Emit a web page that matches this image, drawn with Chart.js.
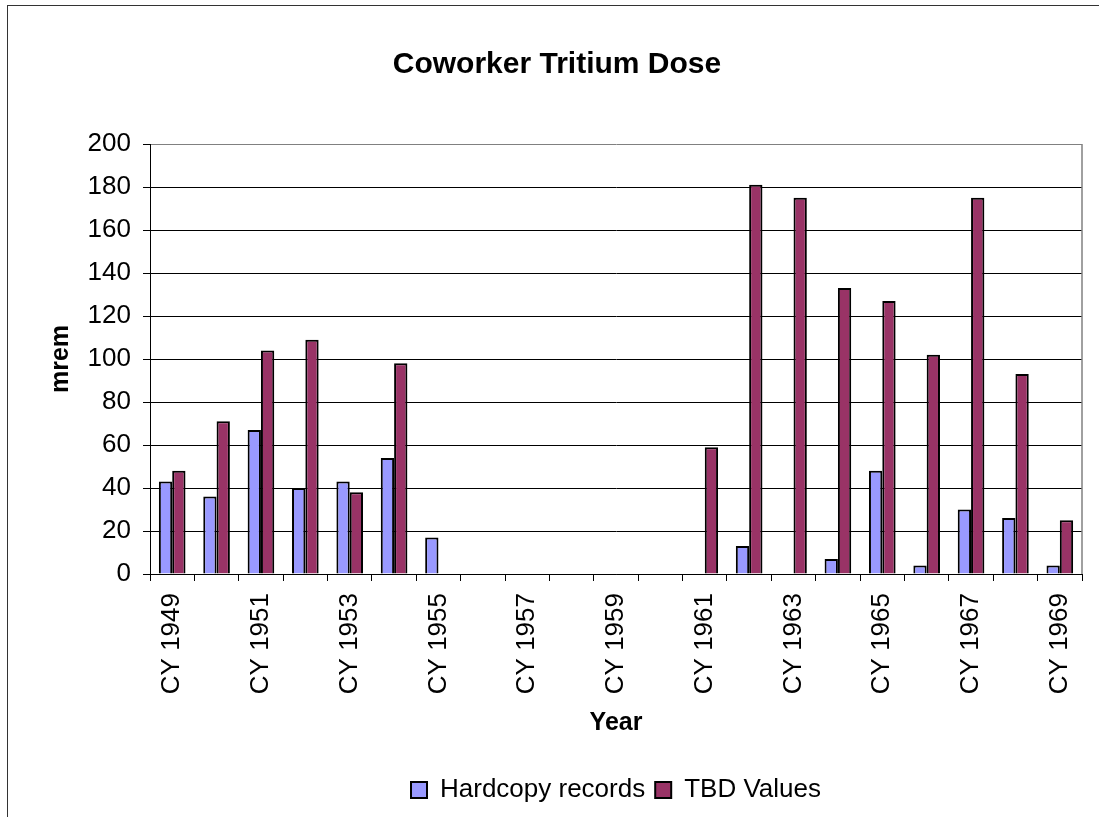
<!DOCTYPE html>
<html>
<head>
<meta charset="utf-8">
<title>Coworker Tritium Dose</title>
<script src="https://cdn.jsdelivr.net/npm/chart.js@4.4.0/dist/chart.umd.min.js"></script>
<style>
  html, body { margin: 0; padding: 0; background: #fff; overflow: hidden; }
  #wrap { position: relative; width: 1099px; height: 817px; overflow: hidden; }
  #frame {
    position: absolute; left: 7px; top: 5px; width: 1400px; height: 1000px;
    border: 1.5px solid #333; box-sizing: border-box; pointer-events: none;
  }
  canvas { position: absolute; left: 0; top: 0; }
</style>
</head>
<body>
<div id="wrap">
  <canvas id="doseChart" width="1099" height="817"></canvas>
  <div id="frame"></div>
</div>
<script>
// Chart data
const years = ['CY 1949', 'CY 1950', 'CY 1951', 'CY 1952', 'CY 1953', 'CY 1954', 'CY 1955',
  'CY 1956', 'CY 1957', 'CY 1958', 'CY 1959', 'CY 1960', 'CY 1961', 'CY 1962',
  'CY 1963', 'CY 1964', 'CY 1965', 'CY 1966', 'CY 1967', 'CY 1968', 'CY 1969'];

const hardcopyRecords = [43, 36, 67, 40, 43, 54, 17, null, null, null, null, null, null,
  13, null, 7, 48, 4, 30, 26, 4];

const tbdValues = [48, 71, 104, 109, 38, 98, null, null, null, null, null, null,
  59, 181, 175, 133, 127, 102, 175, 93, 25];

const yTicks = [0, 20, 40, 60, 80, 100, 120, 140, 160, 180, 200];

const FONT = "'Liberation Sans', Arial, sans-serif";

// Gray border on the right of the plot area (Excel style)
const plotFramePlugin = {
  id: 'plotFrame',
  afterDraw(chart) {
    const { ctx, chartArea } = chart;
    ctx.save();
    ctx.strokeStyle = '#808080';
    ctx.lineWidth = 1.5;
    ctx.beginPath();
    ctx.moveTo(chartArea.right, chartArea.top);
    ctx.lineTo(chartArea.right, chartArea.bottom);
    ctx.stroke();
    ctx.restore();
  }
};

const ctx = document.getElementById('doseChart').getContext('2d');

new Chart(ctx, {
  type: 'bar',
  data: {
    labels: years,
    datasets: [{
      label: 'Hardcopy records',
      data: hardcopyRecords,
      backgroundColor: '#9999FF',
      borderColor: '#000000',
      borderWidth: 2
    }, {
      label: 'TBD Values',
      data: tbdValues,
      backgroundColor: '#993366',
      borderColor: '#000000',
      borderWidth: 2
    }]
  },
  options: {
    responsive: false,
    animation: false,
    devicePixelRatio: 1,
    layout: {
      padding: { left: 15, right: 0, top: 0, bottom: 4 }
    },
    datasets: {
      bar: {
        categoryPercentage: 0.6,
        barPercentage: 1.0
      }
    },
    plugins: {
      title: {
        display: true,
        text: 'Coworker Tritium Dose',
        color: '#000',
        font: { family: FONT, size: 30, weight: 'bold' },
        padding: { top: 47, bottom: 61 }
      },
      legend: {
        position: 'bottom',
        fullSize: false,
        labels: {
          color: '#000',
          font: { family: FONT, size: 26 },
          boxWidth: 16,
          boxHeight: 16,
          padding: 10
        }
      },
      tooltip: { enabled: false }
    },
    scales: {
      x: {
        grid: {
          offset: true,
          drawOnChartArea: false,
          drawTicks: true,
          tickLength: 7,
          color: '#000'
        },
        border: { display: true, color: '#000', width: 1 },
        ticks: {
          autoSkip: false,
          minRotation: 90,
          maxRotation: 90,
          padding: 12,
          color: '#000',
          font: { family: FONT, size: 26 },
          callback: function (value, index) {
            return index % 2 === 0 ? years[index] : '';
          }
        },
        title: {
          display: true,
          text: 'Year',
          color: '#000',
          font: { family: FONT, size: 25, weight: 'bold' },
          padding: { top: 0, bottom: 29 }
        },
        afterFit: function (scale) {
          scale.height = 193;
          scale.paddingLeft = 0;
          scale.paddingRight = 0;
        }
      },
      y: {
        min: 0,
        max: 200,
        afterBuildTicks: function (scale) {
          scale.ticks = yTicks.map(v => ({ value: v }));
        },
        grid: {
          drawTicks: true,
          tickLength: 7,
          color: c => (c.tick && c.tick.value === 200 ? '#808080' : '#000'),
          tickColor: '#000'
        },
        border: { display: true, color: '#000', width: 1 },
        ticks: {
          padding: 12,
          color: '#000',
          font: { family: FONT, size: 26 }
        },
        title: {
          display: true,
          text: 'mrem',
          color: '#000',
          font: { family: FONT, size: 25, weight: 'bold' },
          padding: { top: 31, bottom: 0 }
        },
        afterFit: function (scale) { scale.width = 135; }
      },
      // empty right-side spacer so the plot ends where the reference does
      yRight: {
        position: 'right',
        min: 0,
        max: 200,
        grid: { display: false },
        border: { display: false },
        ticks: { display: false },
        afterFit: function (scale) { scale.width = 17; }
      }
    }
  },
  plugins: [plotFramePlugin]
});
</script>
</body>
</html>
